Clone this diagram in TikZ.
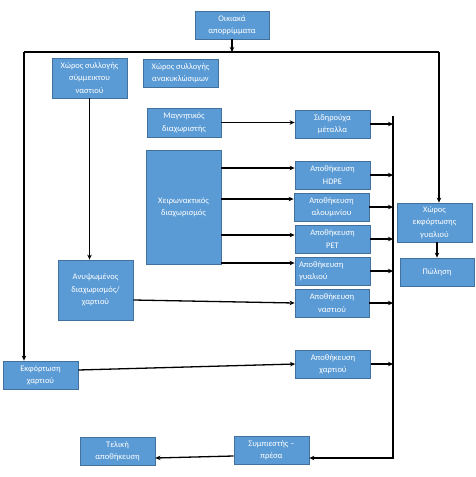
\documentclass[tikz,border=0pt]{standalone}
\usepackage{fontspec}
\setmainfont{Carlito}
\usetikzlibrary{arrows.meta}
\definecolor{boxfill}{HTML}{5B9BD5}
\definecolor{boxline}{HTML}{41719C}
\begin{document}
\begin{tikzpicture}[x=1pt,y=-1pt,
  box/.style={draw=boxline, fill=boxfill, line width=0.8pt, text=white, align=center,
    font=\fontsize{8.5}{12.5}\selectfont, inner sep=1pt, minimum width=75pt, minimum height=28pt},
  wire/.style={line width=1.3pt, black},
  arr/.style={wire, -{Stealth[length=5pt,width=4.5pt]}}]
\useasboundingbox[fill=white] (0,0) rectangle (476,477);

\node[box, minimum width=74pt] (oik) at (232,25) {Οικιακά\\απορρίμματα};
\node[box, minimum height=40pt] (mix) at (89.5,78) {Χώρος συλλογής\\σύμμεικτου\\ναστιού};
\node[box] (anak) at (180.5,73) {Χώρος συλλογής\\ανακυκλώσιμων};
\node[box, minimum width=74pt, minimum height=29pt] (magn) at (184,122.5) {Μαγνητικός\\διαχωριστής};
\node[box, minimum height=114pt] (xeir) at (183.5,207) {Χειρωνακτικός\\διαχωρισμός};
\node[box] (sid) at (332.5,124) {Σιδηρούχα\\μέταλλα};
\node[box] (hdpe) at (332.5,175) {Αποθήκευση\\HDPE};
\node[box] (alu) at (331.5,207) {Αποθήκευση\\αλουμινίου};
\node[box] (pet) at (332.5,239) {Αποθήκευση\\PET};
\node[box, align=left, text width=67pt] (gyal) at (332.5,271) {Αποθήκευση\\γυαλιού};
\node[box, minimum width=74pt] (nast) at (332,303) {Αποθήκευση\\ναστιού};
\node[box] (xart) at (333,364) {Αποθήκευση\\χαρτιού};
\node[box, minimum height=60pt] (anyps) at (95.5,290) {Ανυψωμένος\\διαχωρισμός/\\χαρτιού};
\node[box] (ekf) at (40.5,375) {Εκφόρτωση\\χαρτιού};
\node[box, minimum height=39pt] (xwg) at (434.5,222.5) {Χώρος\\εκφόρτωσης\\γυαλιού};
\node[box, minimum width=74pt] (pwl) at (437,272) {Πώληση};
\node[box] (symp) at (271.5,450) {Συμπιεστής –\\πρέσα};
\node[box] (tel) at (117.5,451) {Τελική\\αποθήκευση};

% top bus
\coordinate (tl) at (24,52);
\coordinate (tr) at (439,52);
\draw[arr] (oik.south) -- (oik.south |- tl);
\draw[wire] (tl) -- (tr);
\draw[arr] (tl) -- (tl |- ekf.north);
\draw[arr] (tr) -- (tr |- xwg.north);

\draw[arr] (mix.south) -- (mix.south |- anyps.north);
\draw[arr] (magn.east) -- (magn.east -| sid.west);

\coordinate (h1) at ([yshift=7pt]hdpe.west);
\coordinate (h2) at ([yshift=8pt]alu.west);
\coordinate (h3) at ([yshift=4pt]pet.west);
\coordinate (h4) at ([yshift=8pt]gyal.west);
\draw[arr] (xeir.east |- h1) -- (h1);
\draw[arr] (xeir.east |- h2) -- (h2);
\draw[arr] (xeir.east |- h3) -- (h3);
\draw[arr] (xeir.east |- h4) -- (h4);

% collector
\coordinate (ctop) at (393,116);
\coordinate (sy) at ([yshift=-8pt]symp.east);
\draw[arr] (ctop) -- (ctop |- sy) -- (sy);
\foreach \n in {sid,hdpe,alu,pet,gyal,nast,xart}
  \draw[arr] (\n.east) -- (\n.east -| ctop);

\draw[arr] ([yshift=-10pt]anyps.east) -- (nast.west);
\draw[arr] ([yshift=5pt]ekf.east) -- (xart.west);
\draw[arr] (xwg.south -| pwl.north) -- (pwl.north);
\draw[arr] ([yshift=-6pt]symp.west) -- ([yshift=-7pt]tel.east);
\end{tikzpicture}
\end{document}
